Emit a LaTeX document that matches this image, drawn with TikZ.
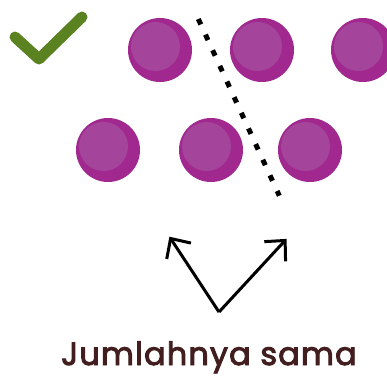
\documentclass[tikz,border=0pt]{standalone}
\usepackage{fontspec}
\newfontfamily\labelfont{Poppins}[FakeBold=3, LetterSpace=3.5]
\usetikzlibrary{positioning}
\usetikzlibrary{arrows.meta}

\definecolor{ballpurple}{RGB}{160,40,143}
\definecolor{ballshine}{RGB}{164,68,154}
\definecolor{tickgreen}{RGB}{91,130,33}
\definecolor{labelbrown}{RGB}{66,30,30}

\tikzset{
	ball/.style={circle, fill=ballpurple, minimum size=64pt, inner sep=0pt, outer sep=0pt,
		path picture={\fill[ballshine] ([shift={(-4.5pt,3.5pt)}]path picture bounding box.center) circle (24.5pt);}},
	pointer/.style={draw, line width=3pt, -{Straight Barb[length=15pt, width=29pt, sep=8pt]}},
}

\begin{document}
\begin{tikzpicture}[x=1pt, y=-1pt]

	\clip (0,0) rectangle (387,376);

	% tick
	\path[draw, tickgreen, line width=11pt, line cap=round, line join=round] (15,37) -- (39,59) -- (82,17);

	\node (ball_1) [ball] at (160,50) {};
	\node (ball_2) [ball, right=38pt of ball_1] {};
	\node (ball_3) [ball, right=37pt of ball_2] {};

	\node (ball_4) [ball] at (108,150) {};
	\node (ball_5) [ball, right=39pt of ball_4] {};
	\node (ball_6) [ball, right=35pt of ball_5] {};

	% split line
	\coordinate (cut_top) at (198.3,19);
	\coordinate (cut_bot) at (279.3,195.7);
	\path[draw, line width=5pt, dash pattern=on 6pt off 11.2pt] (cut_top) -- (cut_bot);

	\node (same) [labelbrown, font=\fontsize{32}{36}\labelfont, anchor=base] at (209,365) {Jumlahnya sama};

	\coordinate (fork) at (219,312);
	\coordinate (tip_left) at (165,230);
	\coordinate (tip_right) at (292,233);
	\path[pointer] (fork) -- (tip_left);
	\path[pointer] (fork) -- (tip_right);

\end{tikzpicture}
\end{document}
